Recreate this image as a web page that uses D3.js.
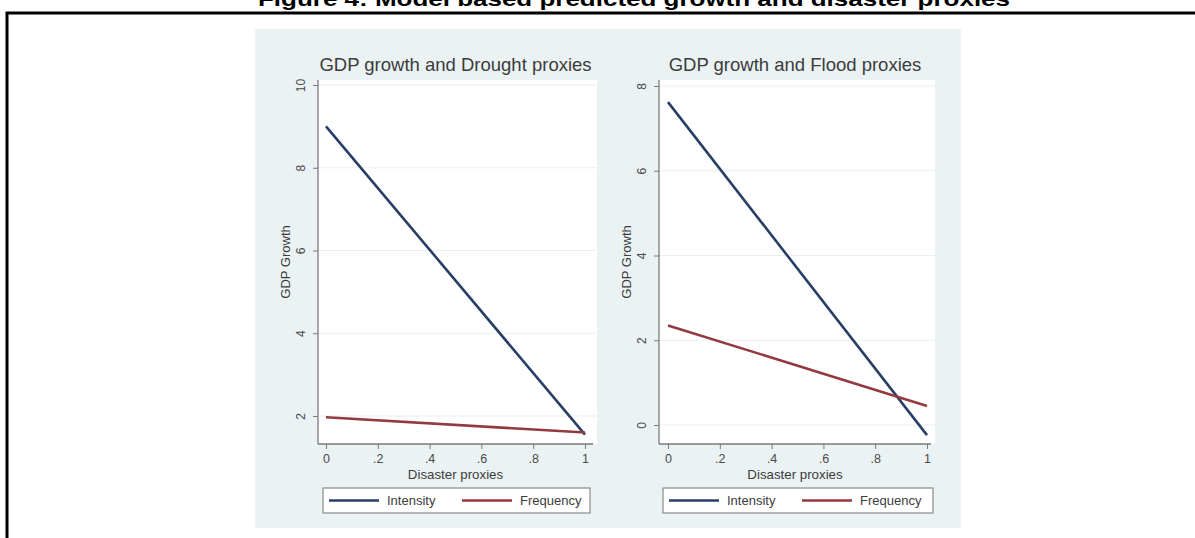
<!DOCTYPE html>
<html>
<head>
<meta charset="utf-8">
<script src="https://cdn.jsdelivr.net/npm/d3@7/dist/d3.min.js"></script>
<style>
  html, body { margin: 0; padding: 0; background: #ffffff; }
  svg { display: block; font-family: "Liberation Sans", Arial, sans-serif; }
</style>
</head>
<body>
<svg id="chart" width="1195" height="538"></svg>
<script>
// Predicted values at the two ends of the disaster proxy range
const proxyX = [0, 1];
const droughtIntensity = [9.0, 1.55];
const droughtFrequency = [1.97, 1.6];
const floodIntensity = [7.62, -0.24];
const floodFrequency = [2.35, 0.45];

const xTicks = [0, 0.2, 0.4, 0.6, 0.8, 1];
const xTickLabels = ["0", ".2", ".4", ".6", ".8", "1"];
const droughtYTicks = [2, 4, 6, 8, 10];
const floodYTicks = [0, 2, 4, 6, 8];

const seriesNames = ["Intensity", "Frequency"];
const seriesColors = ["#283e64", "#93393f"];

const figureTitle = "Figure 4: Model based predicted growth and disaster proxies";
const panelTitles = ["GDP growth and Drought proxies", "GDP growth and Flood proxies"];
const yTitle = "GDP Growth";
const xTitle = "Disaster proxies";

const svg = d3.select("#chart");

// Caption, sitting against the top edge of the page
svg.append("text")
  .attr("x", 258).attr("y", 6)
  .attr("font-size", 20).attr("font-weight", "bold")
  .attr("fill", "#000")
  .attr("textLength", 752).attr("lengthAdjust", "spacingAndGlyphs")
  .text(figureTitle);

// Outer frame
svg.append("path")
  .attr("d", "M7,538 V13 H1195")
  .attr("fill", "none").attr("stroke", "#000").attr("stroke-width", 3);

// Graph background
svg.append("rect")
  .attr("x", 255).attr("y", 29).attr("width", 706).attr("height", 499)
  .attr("fill", "#eaf2f3");

const panels = [
  {
    title: panelTitles[0], yTicks: droughtYTicks,
    series: [droughtIntensity, droughtFrequency],
    plot: { x0: 318, x1: 597, y0: 80, y1: 444 },
    xRange: [326, 585], yDomain: [2, 10], yRange: [416, 85],
    legend: { x: 323, y: 488, w: 267, h: 25 }
  },
  {
    title: panelTitles[1], yTicks: floodYTicks,
    series: [floodIntensity, floodFrequency],
    plot: { x0: 659, x1: 935, y0: 80, y1: 444 },
    xRange: [668, 927], yDomain: [0, 8], yRange: [425, 86],
    legend: { x: 663, y: 488, w: 270, h: 25 }
  }
];

panels.forEach(p => {
  const g = svg.append("g");
  const x = d3.scaleLinear().domain([0, 1]).range(p.xRange);
  const y = d3.scaleLinear().domain(p.yDomain).range(p.yRange);
  const { x0, x1, y0, y1 } = p.plot;

  // Plot region
  g.append("rect")
    .attr("x", x0).attr("y", y0).attr("width", x1 - x0).attr("height", y1 - y0)
    .attr("fill", "#ffffff");

  // Horizontal grid lines
  g.selectAll("line.grid").data(p.yTicks).join("line")
    .attr("class", "grid")
    .attr("x1", x0).attr("x2", x1)
    .attr("y1", d => y(d)).attr("y2", d => y(d))
    .attr("stroke", "#e8f0f2").attr("stroke-width", 1.2);

  // Title
  g.append("text")
    .attr("x", (x0 + x1) / 2 - 2).attr("y", 71)
    .attr("text-anchor", "middle")
    .attr("font-size", 18.5).attr("fill", "#3c3c3c")
    .text(p.title);

  // Y axis
  const yAxis = d3.axisLeft(y).tickValues(p.yTicks).tickSize(5).tickFormat(d3.format("d"));
  const ya = g.append("g").attr("transform", `translate(${x0},0)`).call(yAxis);
  ya.select(".domain").attr("d", `M0,${y0}V${y1}`).attr("stroke", "#7a7a7a").attr("stroke-width", 1.3);
  ya.selectAll(".tick line").attr("stroke", "#7a7a7a");
  ya.selectAll(".tick text")
    .attr("x", 0).attr("y", 0).attr("dy", null)
    .attr("transform", "translate(-13,0) rotate(-90)")
    .attr("text-anchor", "middle")
    .attr("font-size", 12).attr("fill", "#4a4a4a")
    .attr("font-family", "Liberation Sans, Arial, sans-serif");

  // X axis
  const xAxis = d3.axisBottom(x).tickValues(xTicks).tickSize(5)
    .tickFormat((d, i) => xTickLabels[i]);
  const xa = g.append("g").attr("transform", `translate(0,${y1})`).call(xAxis);
  xa.select(".domain").attr("d", `M${x0},0H${x1 - 4}`).attr("stroke", "#7a7a7a").attr("stroke-width", 1.3);
  xa.selectAll(".tick line").attr("stroke", "#7a7a7a");
  xa.selectAll(".tick text")
    .attr("y", 10).attr("dy", "0.71em")
    .attr("font-size", 12.5).attr("fill", "#4a4a4a")
    .attr("font-family", "Liberation Sans, Arial, sans-serif");

  // Axis titles
  g.append("text")
    .attr("transform", `translate(${x0 - 33},${(y0 + y1) / 2}) rotate(-90)`)
    .attr("text-anchor", "middle").attr("dy", "0.35em")
    .attr("font-size", 13).attr("fill", "#3c3c3c")
    .text(yTitle);
  g.append("text")
    .attr("x", (x0 + x1) / 2 - 2).attr("y", y1 + 35)
    .attr("text-anchor", "middle")
    .attr("font-size", 13.3).attr("fill", "#3c3c3c")
    .text(xTitle);

  // Predicted lines
  const line = d3.line().x((d, i) => x(proxyX[i])).y(d => y(d));
  p.series.forEach((vals, i) => {
    g.append("path")
      .datum(vals)
      .attr("d", line)
      .attr("fill", "none")
      .attr("stroke", seriesColors[i])
      .attr("stroke-width", 2.6);
  });

  // Legend
  const L = p.legend;
  const lg = g.append("g").attr("transform", `translate(${L.x},${L.y})`);
  lg.append("rect").attr("width", L.w).attr("height", L.h)
    .attr("fill", "#ffffff").attr("stroke", "#8a8a8a").attr("stroke-width", 1.2);
  const items = [
    { name: seriesNames[0], color: seriesColors[0], lx: 6, tx: 64 },
    { name: seriesNames[1], color: seriesColors[1], lx: 139, tx: 197 }
  ];
  items.forEach(it => {
    lg.append("line")
      .attr("x1", it.lx).attr("x2", it.lx + 50)
      .attr("y1", L.h / 2).attr("y2", L.h / 2)
      .attr("stroke", it.color).attr("stroke-width", 2.6);
    lg.append("text")
      .attr("x", it.tx).attr("y", L.h / 2).attr("dy", "0.35em")
      .attr("font-size", 13).attr("fill", "#3c3c3c")
      .text(it.name);
  });
});
</script>
</body>
</html>
